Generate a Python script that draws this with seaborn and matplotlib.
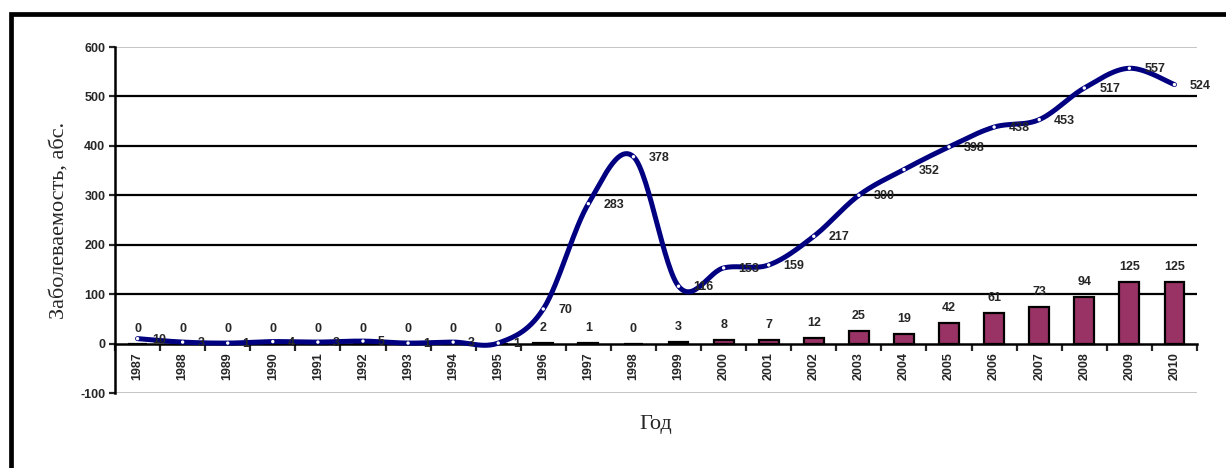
import numpy as np
import pandas as pd
import matplotlib
matplotlib.use("Agg")
import matplotlib.pyplot as plt
from matplotlib.patches import Rectangle
from matplotlib import font_manager as fm
import seaborn as sns

years = [1987, 1988, 1989, 1990, 1991, 1992, 1993, 1994, 1995, 1996, 1997, 1998,
         1999, 2000, 2001, 2002, 2003, 2004, 2005, 2006, 2007, 2008, 2009, 2010]
total_cases = [10, 3, 1, 4, 3, 5, 1, 3, 1, 70, 283, 378,
               116, 153, 159, 217, 300, 352, 398, 438, 453, 517, 557, 524]
bar_cases = [0, 0, 0, 0, 0, 0, 0, 0, 0, 2, 1, 0,
             3, 8, 7, 12, 25, 19, 42, 61, 73, 94, 125, 125]
y_ticks = [-100, 0, 100, 200, 300, 400, 500, 600]

sns.set_style("white")
plt.rcParams["font.family"] = ["Liberation Sans", "DejaVu Sans"]

LINE_COLOR = "#000080"
BAR_COLOR = "#993366"


def font_file(name, weight):
    for f in fm.fontManager.ttflist:
        if f.name == name and f.weight == weight and f.style == "normal":
            return f.fname
    return None


bold_path = font_file("Liberation Sans", 700)
serif_path = font_file("Liberation Serif", 400)
NUM_FONT = (fm.FontProperties(fname=bold_path, size=9) if bold_path
            else fm.FontProperties(family="Liberation Sans", weight="bold", size=9))
AXIS_FONT = (fm.FontProperties(fname=serif_path, size=16) if serif_path
             else fm.FontProperties(family="Liberation Serif", size=16))


def smooth_curve(xs, ys, steps=30):
    """Cubic Bezier smoothing through every point (Catmull-Rom style tangents)."""
    pts = np.column_stack([xs, ys]).astype(float)
    n = len(pts)
    out = []
    for i in range(n - 1):
        p0 = pts[i - 1] if i > 0 else pts[i]
        p1 = pts[i]
        p2 = pts[i + 1]
        p3 = pts[i + 2] if i + 2 < n else pts[i + 1]
        c1 = p1 + (p2 - p0) / 6.0
        c2 = p2 - (p3 - p1) / 6.0
        t = np.linspace(0, 1, steps, endpoint=(i == n - 2))[:, None]
        seg = ((1 - t) ** 3) * p1 + 3 * ((1 - t) ** 2) * t * c1 + 3 * (1 - t) * t ** 2 * c2 + t ** 3 * p2
        out.append(seg)
    out = np.vstack(out)
    return out[:, 0], out[:, 1]


df = pd.DataFrame({"year": [str(y) for y in years], "pos": np.arange(len(years)),
                   "total": total_cases, "bars": bar_cases})

W, H = 1226, 468
fig = plt.figure(figsize=(W / 100, H / 100), dpi=100)
ax = fig.add_axes([115 / W, 1 - 393 / H, (1197 - 115) / W, (393 - 47) / H])

# horizontal grid
for v in y_ticks:
    if v in (-100, 600):
        ax.axhline(v, color="#c0c0c0", lw=1.3, zorder=0)
    elif v != 0:
        ax.axhline(v, color="black", lw=1.6, zorder=0)

# bars
sns.barplot(data=df, x="pos", y="bars", color=BAR_COLOR, width=0.44,
            edgecolor="black", linewidth=1.6, saturation=1, native_scale=True,
            ax=ax, zorder=2)

# smoothed line
sx, sy = smooth_curve(df["pos"].values, df["total"].values)
sns.lineplot(x=sx, y=sy, sort=False, color=LINE_COLOR, lw=3.6, ax=ax, zorder=3,
             estimator=None)
sns.scatterplot(x=df["pos"], y=df["total"], color="white", s=6, edgecolor="none",
                ax=ax, zorder=4)

# labels on bars and line
for p, b, t in zip(df["pos"], df["bars"], df["total"]):
    ax.annotate(str(b), (p, b), xytext=(0, 9), textcoords="offset pixels",
                ha="center", va="bottom", fontproperties=NUM_FONT, zorder=5)
    ax.annotate(str(t), (p, t), xytext=(15, -1), textcoords="offset pixels",
                ha="left", va="center", fontproperties=NUM_FONT, zorder=5)

# spines (moving the bottom spine resets ticks, so do it before tick styling)
for s in ["top", "right"]:
    ax.spines[s].set_visible(False)
ax.spines["left"].set_linewidth(1.8)
ax.spines["left"].set_color("black")
ax.spines["bottom"].set_position(("data", 0))
ax.spines["bottom"].set_linewidth(1.8)
ax.spines["bottom"].set_color("black")
ax.spines["bottom"].set_zorder(2.5)

ax.set_xlim(-0.5, len(years) - 0.5)
ax.set_ylim(-100, 600)
ax.set_yticks(y_ticks)
ax.set_yticklabels([str(v) for v in y_ticks])
ax.tick_params(axis="y", direction="out", length=4, width=1.6, pad=3, left=True)

ax.set_xticks(df["pos"].values)
ax.set_xticklabels(df["year"].tolist())
ax.set_xticks(np.arange(-0.5, len(years)), minor=True)
ax.tick_params(axis="x", which="major", length=0, pad=6, bottom=True)
ax.tick_params(axis="x", which="minor", length=5, width=1.6, direction="out", bottom=True)

for lab in ax.get_yticklabels():
    lab.set_fontproperties(NUM_FONT)
for lab in ax.get_xticklabels():
    lab.set_fontproperties(NUM_FONT)
    lab.set_rotation(90)
    lab.set_va("top")
    lab.set_ha("center")

ax.set_xlabel("")
ax.set_ylabel("Заболеваемость, абс.", fontproperties=AXIS_FONT, labelpad=8.5)
fig.text((115 + 1197) / 2 / W, 1 - 425 / H, "Год", ha="center", va="center",
         fontproperties=AXIS_FONT)

# outer frame
fig.add_artist(Rectangle((10.5 / W, -0.1), 1.2, 1 - 14 / H + 0.1, transform=fig.transFigure,
                         fill=False, edgecolor="black", lw=3.4, clip_on=False))

fig.savefig("out.png", dpi=100)
